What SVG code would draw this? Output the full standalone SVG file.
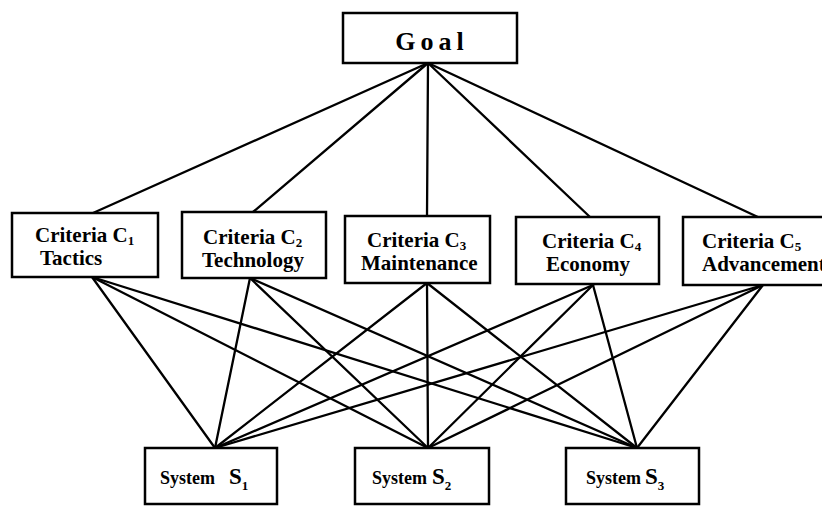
<svg xmlns="http://www.w3.org/2000/svg" width="822" height="506" viewBox="0 0 822 506">
<style>
.box{fill:#fff;stroke:#000;stroke-width:2.5}
.ln{stroke:#000;stroke-width:2.3;fill:none;stroke-linecap:round}
text{font-family:"Liberation Serif","Times New Roman",serif;font-weight:bold;fill:#000}
.crit{font-size:21px}
.sub{font-size:13px}
.goal{font-size:26px;letter-spacing:5px}
.sys{font-size:18px}
.big{font-size:23px}
</style>
<rect width="822" height="506" fill="#fff"/>
<g id="connectors">
<line class="ln" x1="428" y1="63" x2="93" y2="213"/>
<line class="ln" x1="428" y1="63" x2="253" y2="212"/>
<line class="ln" x1="428" y1="63" x2="427" y2="216"/>
<line class="ln" x1="428" y1="63" x2="590" y2="217"/>
<line class="ln" x1="428" y1="63" x2="760" y2="218"/>
<line class="ln" x1="92" y1="277" x2="215" y2="448"/>
<line class="ln" x1="92" y1="277" x2="428" y2="448"/>
<line class="ln" x1="92" y1="277" x2="637" y2="448"/>
<line class="ln" x1="250" y1="278" x2="215" y2="448"/>
<line class="ln" x1="250" y1="278" x2="428" y2="448"/>
<line class="ln" x1="250" y1="278" x2="637" y2="448"/>
<line class="ln" x1="427" y1="283" x2="215" y2="448"/>
<line class="ln" x1="427" y1="283" x2="428" y2="448"/>
<line class="ln" x1="427" y1="283" x2="637" y2="448"/>
<line class="ln" x1="593" y1="285" x2="215" y2="448"/>
<line class="ln" x1="593" y1="285" x2="428" y2="448"/>
<line class="ln" x1="593" y1="285" x2="637" y2="448"/>
<line class="ln" x1="763" y1="285" x2="215" y2="448"/>
<line class="ln" x1="763" y1="285" x2="428" y2="448"/>
<line class="ln" x1="763" y1="285" x2="637" y2="448"/>
</g>
<g id="goal">
<rect class="box" x="343" y="13" width="174" height="50"/>
<text class="goal" x="432" y="50" text-anchor="middle">Goal</text>
</g>
<g id="c1">
<rect class="box" x="12" y="213" width="146" height="64"/>
<text class="crit" x="35" y="242">Criteria C<tspan class="sub" dy="3">1</tspan></text>
<text class="crit" x="40" y="265">Tactics</text>
</g>
<g id="c2">
<rect class="box" x="182" y="212" width="144" height="66"/>
<text class="crit" x="203" y="244">Criteria C<tspan class="sub" dy="3">2</tspan></text>
<text class="crit" x="202" y="267">Technology</text>
</g>
<g id="c3">
<rect class="box" x="345" y="216" width="145" height="67"/>
<text class="crit" x="367" y="247">Criteria C<tspan class="sub" dy="3">3</tspan></text>
<text class="crit" x="361" y="270">Maintenance</text>
</g>
<g id="c4">
<rect class="box" x="516" y="217" width="143" height="67"/>
<text class="crit" x="542" y="248">Criteria C<tspan class="sub" dy="3">4</tspan></text>
<text class="crit" x="546" y="271">Economy</text>
</g>
<g id="c5">
<rect class="box" x="683" y="217" width="150" height="68"/>
<text class="crit" x="702" y="248">Criteria C<tspan class="sub" dy="3">5</tspan></text>
<text class="crit" x="702" y="271">Advancement</text>
</g>
<g id="s1">
<rect class="box" x="145" y="448" width="132" height="56"/>
<text class="sys" x="160" y="484">System<tspan class="big" dx="14">S</tspan><tspan class="sub" dy="6">1</tspan></text>
</g>
<g id="s2">
<rect class="box" x="355" y="448" width="134" height="56"/>
<text class="sys" x="372" y="484">System<tspan class="big" dx="5">S</tspan><tspan class="sub" dy="6">2</tspan></text>
</g>
<g id="s3">
<rect class="box" x="566" y="448" width="133" height="56"/>
<text class="sys" x="586" y="484">System<tspan class="big" dx="4">S</tspan><tspan class="sub" dy="6">3</tspan></text>
</g>
</svg>
